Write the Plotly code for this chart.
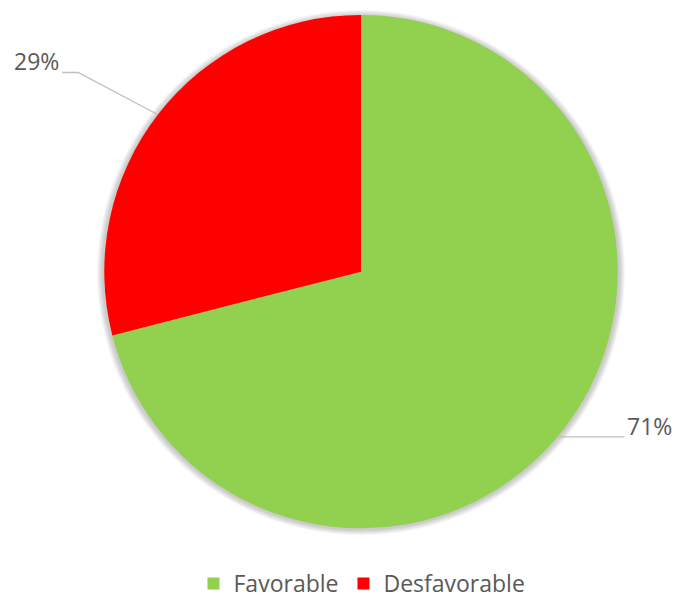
import math
import plotly.graph_objects as go

labels = ["Favorable", "Desfavorable"]
values = [71, 29]
colors = ["#92D050", "#FF0000"]

W, H = 681, 605
CX, CY, R = 361, 273, 258  # pie centre/radius in px (layout)
FONT = "Open Sans, Liberation Sans, sans-serif"

def px2paper(x, y):
    return x / W, 1 - y / H

fig = go.Figure()
fig.add_trace(go.Pie(
    labels=labels, values=values, sort=False, direction="clockwise", rotation=0,
    marker=dict(colors=colors, line=dict(width=0)),
    textinfo="none", hoverinfo="label+percent",
    domain=dict(x=[(CX - R) / W, (CX + R) / W], y=[1 - (CY + R) / H, 1 - (CY - R) / H]),
))

shapes, annotations = [], []
# soft shadow around the pie
for k in range(1, 7):
    rr = R + k
    x0, y0 = px2paper(CX - rr, CY + rr + 1)
    x1, y1 = px2paper(CX + rr, CY - rr + 1)
    shapes.append(dict(type="circle", xref="paper", yref="paper", x0=x0, y0=y0, x1=x1, y1=y1,
                       fillcolor="rgba(0,0,0,0.035)", line=dict(width=0), layer="below"))

total = sum(values)
cum = 0
for i, v in enumerate(values):
    mid = (cum + v / 2) / total * 2 * math.pi
    cum += v
    ex = CX + R * math.sin(mid)
    ey = CY - R * math.cos(mid)
    pct = f"{round(v / total * 100)}%"
    if math.sin(mid) >= 0:
        ly = ey + 8
        sx = CX + math.sqrt(max(R * R - (ly - CY) ** 2, 0))
        x1 = sx + 66
        pts = [(sx, ly), (x1, ly)]
        tx, anchor = x1 + 1, "left"
        ty = ly + 7
    else:
        elx, ely = ex - 79, ey - 42
        x1 = elx - 16
        pts = [(ex, ey), (elx, ely), (x1, ely)]
        tx, anchor = x1 - 1, "right"
        ty = ely + 7
    path = "M " + " L ".join(f"{px2paper(x, y)[0]},{px2paper(x, y)[1]}" for x, y in pts)
    shapes.append(dict(type="path", xref="paper", yref="paper", path=path,
                       line=dict(color="#BFBFBF", width=1.3)))
    ax, ay = px2paper(tx, ty)
    annotations.append(dict(x=ax, y=ay, xref="paper", yref="paper", text=pct,
                            showarrow=False, xanchor=anchor, yanchor="bottom",
                            font=dict(size=23, color="#595959", family=FONT)))

fig.update_layout(
    width=W, height=H, margin=dict(l=0, r=0, t=0, b=0),
    paper_bgcolor="white", plot_bgcolor="white",
    shapes=shapes, annotations=annotations,
    showlegend=True,
    legend=dict(orientation="h", x=362 / W, xanchor="center", y=-0.005, yanchor="bottom",
                font=dict(size=23, color="#595959", family=FONT),
                itemwidth=30, tracegroupgap=0),
)
fig.write_html("out.html")
